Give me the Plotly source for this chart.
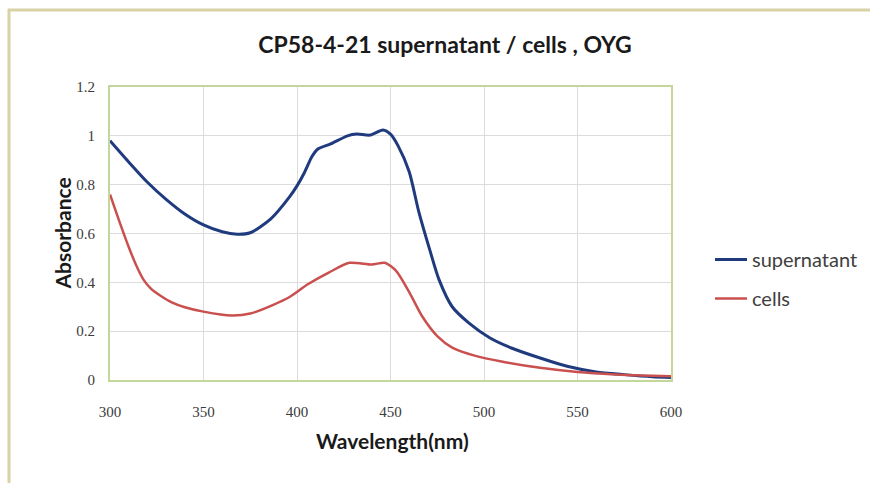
import plotly.graph_objects as go

# Absorbance spectra, OYG, supernatant vs. cells
wavelength_sup = [300, 310, 320, 330, 340, 350, 360, 368, 375, 386, 396, 400, 404, 408,
                  411, 418, 427, 432, 439, 446, 450, 454, 460, 465, 471, 476, 483,
                  492, 503, 515, 530, 545, 560, 575, 590, 600]
absorb_sup = [0.98, 0.893, 0.81, 0.74, 0.68, 0.635, 0.607, 0.597, 0.603, 0.66, 0.75,
              0.795, 0.85, 0.915, 0.945, 0.967, 1.0, 1.007, 1.003, 1.024, 1.007, 0.96,
              0.853, 0.693, 0.533, 0.41, 0.30, 0.233, 0.173, 0.13, 0.09, 0.055, 0.033,
              0.022, 0.013, 0.01]

wavelength_cells = [300, 305, 310, 314, 318, 322, 327, 333, 340, 350, 365, 375, 387,
                    396, 406, 417, 428, 440, 447, 453, 460, 467, 475, 483, 495, 510,
                    530, 550, 570, 590, 600]
absorb_cells = [0.76, 0.65, 0.545, 0.47, 0.41, 0.373, 0.345, 0.318, 0.298, 0.28, 0.264,
                0.272, 0.307, 0.34, 0.393, 0.44, 0.48, 0.473, 0.48, 0.447, 0.36, 0.26,
                0.18, 0.133, 0.10, 0.075, 0.05, 0.033, 0.023, 0.017, 0.015]

x_ticks = [300, 350, 400, 450, 500, 550, 600]
y_ticks = [0, 0.2, 0.4, 0.6, 0.8, 1.0, 1.2]
y_tick_text = ["0", "0.2", "0.4", "0.6", "0.8", "1", "1.2"]

title_text = "CP58-4-21 supernatant / cells , OYG"
x_title = "Wavelength(nm)"
y_title = "Absorbance"

W, H = 870, 483
L, R, T, B = 110, 671, 87, 380  # plot area in pixels


def px(x):
    return (x - L) / (R - L)


def py(y):
    return (B - y) / (B - T)


fig = go.Figure()
fig.add_trace(go.Scatter(
    x=wavelength_sup, y=absorb_sup, name="supernatant", mode="lines",
    line=dict(color="#1f3a7d", width=3, shape="spline", smoothing=0.7),
    legendgroup="a",
))
fig.add_trace(go.Scatter(
    x=wavelength_cells, y=absorb_cells, name="cells", mode="lines",
    line=dict(color="#c9504e", width=2.5, shape="spline", smoothing=0.7),
    legendgroup="b",
))

axis_common = dict(
    showline=True, linecolor="#c3d69b", linewidth=2, mirror=True,
    showgrid=True, gridcolor="#dcdcdc", gridwidth=1, zeroline=False,
    ticks="", tickfont=dict(family="Liberation Serif", size=15, color="#3a3a3a"),
)

fig.update_xaxes(range=[300, 600], tickvals=x_ticks, ticklabelstandoff=17,
                 **axis_common)
fig.update_yaxes(range=[0, 1.2], tickvals=y_ticks, ticktext=y_tick_text,
                 ticklabelstandoff=10, **axis_common)

fig.update_layout(
    width=W, height=H,
    margin=dict(l=L, r=W - R, t=T, b=H - B, autoexpand=False),
    paper_bgcolor="white", plot_bgcolor="white",
    title=dict(text="<b>" + title_text + "</b>", x=445 / W, xanchor="center",
               y=1 - 45 / H, yanchor="middle",
               font=dict(family="Lato", size=23, color="#1a1a1a")),
    legend=dict(x=px(710), y=py(240), xanchor="left", yanchor="top",
                itemwidth=32,
                font=dict(family="Lato", size=20, color="#404040"),
                tracegroupgap=10, bgcolor="rgba(0,0,0,0)"),
    showlegend=True,
    annotations=[
        dict(text="<b>" + y_title + "</b>", x=px(47), y=py(234), xref="paper",
             yref="paper", textangle=-90, showarrow=False,
             font=dict(family="Lato", size=21, color="#1a1a1a")),
        dict(text="<b>" + x_title + "</b>", x=px(392), y=py(455), xref="paper",
             yref="paper", showarrow=False,
             font=dict(family="Lato", size=21, color="#1a1a1a")),
    ],
    shapes=[
        dict(type="line", xref="paper", yref="paper", x0=px(9), x1=px(9),
             y0=py(9), y1=py(500), line=dict(color="#d8d2a6", width=3)),
        dict(type="line", xref="paper", yref="paper", x0=px(8), x1=px(900),
             y0=py(10), y1=py(10), line=dict(color="#d8d2a6", width=3)),
    ],
)

fig.write_html("out.html")
